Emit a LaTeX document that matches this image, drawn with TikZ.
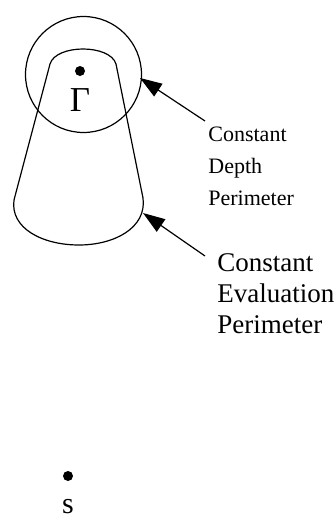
\documentclass[tikz,border=0pt]{standalone}
\usepackage{fontspec}
\setmainfont{Liberation Serif}
\usetikzlibrary{arrows.meta, positioning}

\begin{document}
\begin{tikzpicture}[
    x=0.5pt, y=-0.5pt,
    outline/.style={line width=0.6pt},
    spot/.style={circle, fill, inner sep=0pt, minimum size=5pt},
    note/.style={anchor=north west, inner sep=0pt, align=left},
    pointer/.style={-{Triangle[length=11pt, width=7.5pt]}, line width=0.6pt}
]
    \useasboundingbox (0,0) rectangle (336,520);

    % Perimeters
    \node[draw, outline, circle, inner sep=0pt, minimum size=58pt] (depth) at (83.5,74.5) {};
    \draw[outline] (14,200) -- (50,64) .. controls (56,44) and (110,44) .. (116,64)
        -- (143,198) .. controls (147,228) and (114,245) .. (79,245)
        .. controls (42,245) and (10,228) .. (14,200);

    % Points
    \node[spot] (gdot) at (80,71) {};
    \node[font=\fontsize{17.5}{17.5}\selectfont, inner sep=0pt] (gamma) at (80,100) {Γ};
    \node[spot] (sdot) at (68,476) {};
    \node[font=\fontsize{15}{15}\selectfont, inner sep=0pt] (s) at (68,507) {s};

    % Labels
    \node[note, font=\fontsize{11}{16}\selectfont] (depthtext) at (208,127) {Constant\\Depth\\Perimeter};
    \node[note, font=\fontsize{13.5}{15.5}\selectfont] (evaltext) at (217,253) {Constant\\Evaluation\\Perimeter};

    % Arrows
    \coordinate (dtail) at (205,121);
    \coordinate (dtip) at (140,78);
    \coordinate (etail) at (205,256);
    \coordinate (etip) at (143,213);
    \draw[pointer] (dtail) -- (dtip);
    \draw[pointer] (etail) -- (etip);
\end{tikzpicture}
\end{document}
